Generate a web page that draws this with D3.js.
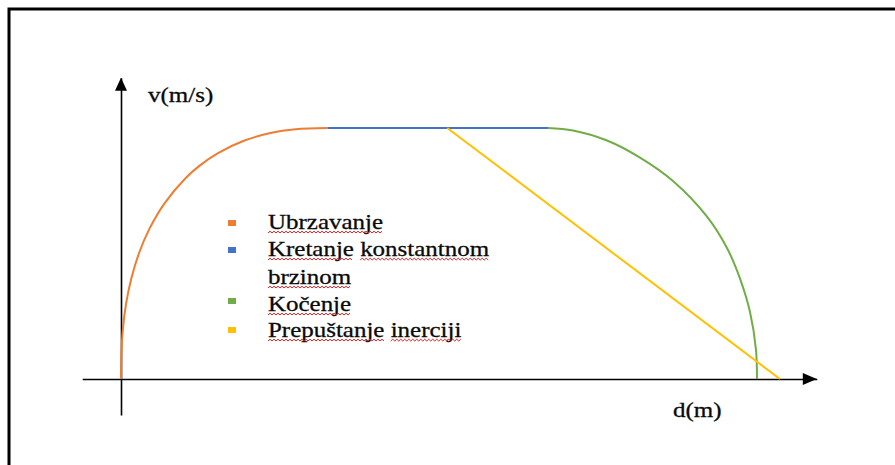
<!DOCTYPE html>
<html>
<head>
<meta charset="utf-8">
<script src="https://cdn.jsdelivr.net/npm/d3@7"></script>
</head>
<body style="margin:0">
<svg id="chart" width="895" height="465" style="display:block;background:#fff"></svg>
<script>
// Phases of motion: distance d (m) vs speed v (m/s)
const accelD = [0, 0.06, 0.30, 0.80, 1.62, 2.81, 4.50, 6.84, 10.14, 12.37, 15.25, 19.42, 23.49, 27.42, 32.5];
const accelV = [0, 1.0, 2.0, 3.0, 4.0, 5.0, 6.0, 7.0, 8.0, 8.5, 9.0, 9.5, 9.8, 9.95, 10];

const cruiseD = [32.5, 67.14];
const cruiseV = [10, 10];

const brakeD = [67.14, 71.07, 76.42, 81.60, 86.79, 92.14, 95.28, 97.33, 98.90, 99.84, 100];
const brakeV = [10, 9.90, 9.50, 8.82, 7.89, 6.47, 5.22, 4.00, 2.67, 1.16, 0];

const coastD = [51.3, 103.6];
const coastV = [10, 0];

const dExtent = [-6.1, 109.4];
const vExtent = [-1.43, 12.0];

const seriesNames = ["Ubrzavanje", "Kretanje konstantnom brzinom", "Kočenje", "Prepuštanje inerciji"];
const seriesColors = ["#ED7D31", "#4472C4", "#70AD47", "#FFC000"];
const legendLines = [["Ubrzavanje"], ["Kretanje", "konstantnom"], ["brzinom"], ["Kočenje"], ["Prepuštanje", "inerciji"]];
const legendMarkerRow = [0, 1, 3, 4];

const axisLabels = { x: "d(m)", y: "v(m/s)" };

const svg = d3.select("#chart");

const x = d3.scaleLinear().domain([0, 100]).range([121, 757]);
const y = d3.scaleLinear().domain([0, 10]).range([379, 128]);

// frame
svg.append("path")
  .attr("d", "M9,465 V9 H895")
  .attr("fill", "none").attr("stroke", "#000").attr("stroke-width", 3);

// axes: plain lines with no ticks, ending in arrows
const xAxisScale = x.copy().domain(dExtent).range(dExtent.map(x));
const yAxisScale = y.copy().domain(vExtent).range(vExtent.map(y));

const gx = svg.append("g").attr("transform", `translate(0,${y(0)})`)
  .call(d3.axisBottom(xAxisScale).tickValues([]).tickSizeOuter(0));
const gy = svg.append("g").attr("transform", `translate(${x(0)},0)`)
  .call(d3.axisLeft(yAxisScale).tickValues([]).tickSizeOuter(0));
[gx, gy].forEach(g => g.select(".domain").attr("stroke", "#000").attr("stroke-width", 1.6));

const xTip = xAxisScale(dExtent[1]);
svg.append("path")
  .attr("d", `M${xTip},${y(0)} L${xTip - 14},${y(0) - 6} L${xTip - 14},${y(0) + 6} Z`)
  .attr("fill", "#000");
const yTip = yAxisScale(vExtent[1]);
svg.append("path")
  .attr("d", `M${x(0)},${yTip} L${x(0) - 6},${yTip + 13} L${x(0) + 6},${yTip + 13} Z`)
  .attr("fill", "#000");

function label(parent, text, lx, ly, size, sx) {
  return parent.append("text").attr("x", lx).attr("y", ly)
    .style("font-family", '"Liberation Serif"')
    .attr("font-size", size).attr("fill", "#0a0a0a")
    .attr("stroke", "#0a0a0a").attr("stroke-width", 0.3)
    .attr("transform", `translate(${lx},0) scale(${sx},1) translate(${-lx},0)`)
    .text(text);
}
label(svg, axisLabels.y, 148, 102, 21, 1.19);
label(svg, axisLabels.x, 673, 417, 21, 1.19);

// curves
const line = d3.line().x(p => x(p[0])).y(p => y(p[1])).curve(d3.curveCatmullRom.alpha(0.5));
const series = [
  [accelD, accelV], [cruiseD, cruiseV], [brakeD, brakeV], [coastD, coastV]
];
series.forEach(([ds, vs], i) => {
  svg.append("path")
    .datum(ds.map((d, k) => [d, vs[k]]))
    .attr("d", line)
    .attr("fill", "none")
    .attr("stroke", seriesColors[i])
    .attr("stroke-width", 2)
    .attr("stroke-linecap", "butt");
});

// legend
const legendX = 268, markerX = 228, textScale = 1.135, legendSize = 22;
const rowBaselines = [229, 256, 284, 311, 337];
const markerTops = [220, 247, 298, 327];
const legend = svg.append("g");
legendMarkerRow.forEach((row, i) => {
  legend.append("rect")
    .attr("x", markerX).attr("y", markerTops[i])
    .attr("width", 8).attr("height", 6)
    .attr("fill", seriesColors[i]);
});

// Times-compatible advance widths (per em) for the spell-check underline lengths
const advance = { U: .722, b: .5, r: .333, z: .444, a: .444, v: .5, n: .5, j: .278, e: .444,
  K: .722, t: .278, k: .5, o: .5, s: .389, m: .778, i: .278, "č": .444, P: .556, p: .5,
  u: .5, "š": .389, c: .444, " ": .25 };
const textWidth = s => [...s].reduce((acc, ch) => acc + (advance[ch] || .5), 0) * legendSize * textScale;

// red wavy underline under each word
function squiggle(x0, x1, yb) {
  let p = `M${x0},${yb}`;
  let up = true;
  for (let xx = x0 + 2; xx <= x1; xx += 2) {
    p += ` L${xx},${up ? yb - 1.8 : yb}`;
    up = !up;
  }
  return p;
}

legendLines.forEach((words, row) => {
  label(legend, words.join(" "), legendX, rowBaselines[row], legendSize, textScale);
  let cursor = legendX;
  words.forEach(w => {
    const wWidth = textWidth(w);
    legend.append("path")
      .attr("d", squiggle(cursor, cursor + wWidth, rowBaselines[row] + 4))
      .attr("fill", "none").attr("stroke", "#e02020").attr("stroke-width", 1);
    cursor += wWidth + textWidth(" ");
  });
});
</script>
</body>
</html>
